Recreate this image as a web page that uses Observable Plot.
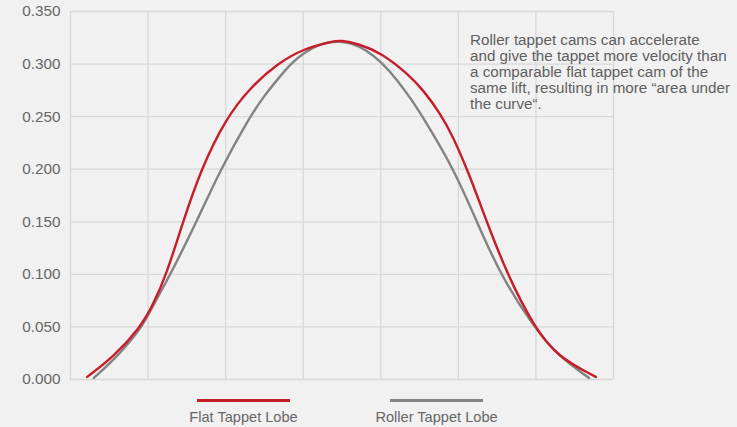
<!DOCTYPE html>
<html>
<head>
<meta charset="utf-8">
<script src="https://cdn.jsdelivr.net/npm/d3@7"></script>
<script src="https://cdn.jsdelivr.net/npm/@observablehq/plot@0.6"></script>
<style>
  html, body { margin: 0; padding: 0; background: #f1f1f1; }
  body { width: 737px; height: 427px; position: relative; overflow: hidden; font-family: "Liberation Sans", Arial, sans-serif; }
  #chart { position: absolute; left: 0; top: 0; }
  #note { position: absolute; left: 470px; top: 32px; font-size: 15.2px; line-height: 16px; color: #606060; white-space: nowrap; }
  #legend { position: absolute; left: 0; top: 385px; width: 737px; height: 42px; }
  .swatch { position: absolute; top: 14px; height: 3px; }
  .lab { position: absolute; top: 24px; white-space: nowrap; transform: translateX(-50%); font-size: 14.6px; color: #666; }
</style>
</head>
<body>
<div id="chart"></div>
<div id="note"></div>
<div id="legend"></div>
<script>
// Series names and colours
const seriesNames = ["Flat Tappet Lobe", "Roller Tappet Lobe"];
const seriesColors = ["#c61d2b", "#838383"];

// Annotation lines
const noteLines = [
  "Roller tappet cams can accelerate",
  "and give the tappet more velocity than",
  "a comparable flat tappet cam of the",
  "same lift, resulting in more “area under",
  "the curve“."
];

// Flat tappet lobe (x in cam-angle units, y = lift)
const flatX = [2.15, 5.58, 9.03, 10.58, 12.38, 14.51, 16.77, 19.99, 23.22, 26.66, 30.09, 33.96, 34.83, 36.98, 40.07, 43.43, 45.57, 47.72, 49.23, 51.21, 53.66, 56.30, 59.76, 62.78, 67.72];
const flatY = [0.0025, 0.0215, 0.050, 0.070, 0.100, 0.150, 0.199, 0.248, 0.278, 0.3005, 0.3148, 0.322, 0.3225, 0.3196, 0.3107, 0.291, 0.2745, 0.2523, 0.2322, 0.199, 0.150, 0.100, 0.050, 0.0215, 0.0025];

// Roller tappet lobe
const rollerX = [3.01, 6.02, 9.25, 10.32, 12.90, 16.25, 19.35, 23.00, 24.93, 27.09, 28.38, 30.01, 32.25, 34.40, 36.11, 38.05, 40.08, 42.14, 43.85, 45.40, 49.44, 52.37, 55.46, 59.55, 62.78, 66.85];
const rollerY = [0.0015, 0.0215, 0.050, 0.066, 0.100, 0.150, 0.200, 0.2485, 0.2695, 0.289, 0.300, 0.3105, 0.3195, 0.322, 0.3202, 0.3138, 0.302, 0.2847, 0.2673, 0.250, 0.200, 0.150, 0.0992, 0.0516, 0.023, 0.0015];

// Axis ticks
const yTicks = [0, 0.05, 0.10, 0.15, 0.20, 0.25, 0.30, 0.35];
const xTicks = [0, 10, 20, 30, 40, 50, 60, 70];

const flat = flatX.map((x, i) => ({x, y: flatY[i]}));
const roller = rollerX.map((x, i) => ({x, y: rollerY[i]}));

const chart = Plot.plot({
  width: 737,
  height: 400,
  marginLeft: 70,
  marginRight: 124,
  marginTop: 11,
  marginBottom: 21,
  style: {background: "transparent", fontFamily: "'Liberation Sans', Arial, sans-serif", fontSize: "15.3px", color: "#666"},
  x: {domain: [0, 70], axis: null},
  y: {domain: [0, 0.35], axis: null},
  marks: [
    Plot.gridX(xTicks, {stroke: "#d8d8d8", strokeOpacity: 1, strokeWidth: 1.3}),
    Plot.gridY(yTicks, {stroke: "#d8d8d8", strokeOpacity: 1, strokeWidth: 1.3}),
    Plot.axisY({ticks: yTicks, tickFormat: d3.format(".3f"), tickSize: 0, tickPadding: 10, label: null, fill: "#666"}),
    Plot.line(roller, {x: "x", y: "y", stroke: seriesColors[1], strokeWidth: 2.4, curve: "basis"}),
    Plot.line(flat, {x: "x", y: "y", stroke: seriesColors[0], strokeWidth: 2.4, curve: "basis"})
  ]
});
document.getElementById("chart").appendChild(chart);

// Annotation
const note = document.getElementById("note");
noteLines.forEach((t, i) => {
  const d = document.createElement("div");
  d.textContent = t;
  note.appendChild(d);
});

// Legend
const legend = document.getElementById("legend");
const legendPos = [{x0: 197, x1: 290}, {x0: 390, x1: 483}];
seriesNames.forEach((name, i) => {
  const sw = document.createElement("div");
  sw.className = "swatch";
  sw.style.left = legendPos[i].x0 + "px";
  sw.style.width = (legendPos[i].x1 - legendPos[i].x0) + "px";
  sw.style.background = seriesColors[i];
  const lab = document.createElement("div");
  lab.className = "lab";
  lab.style.left = ((legendPos[i].x0 + legendPos[i].x1) / 2) + "px";
  lab.textContent = name;
  legend.appendChild(sw);
  legend.appendChild(lab);
});
</script>
</body>
</html>
